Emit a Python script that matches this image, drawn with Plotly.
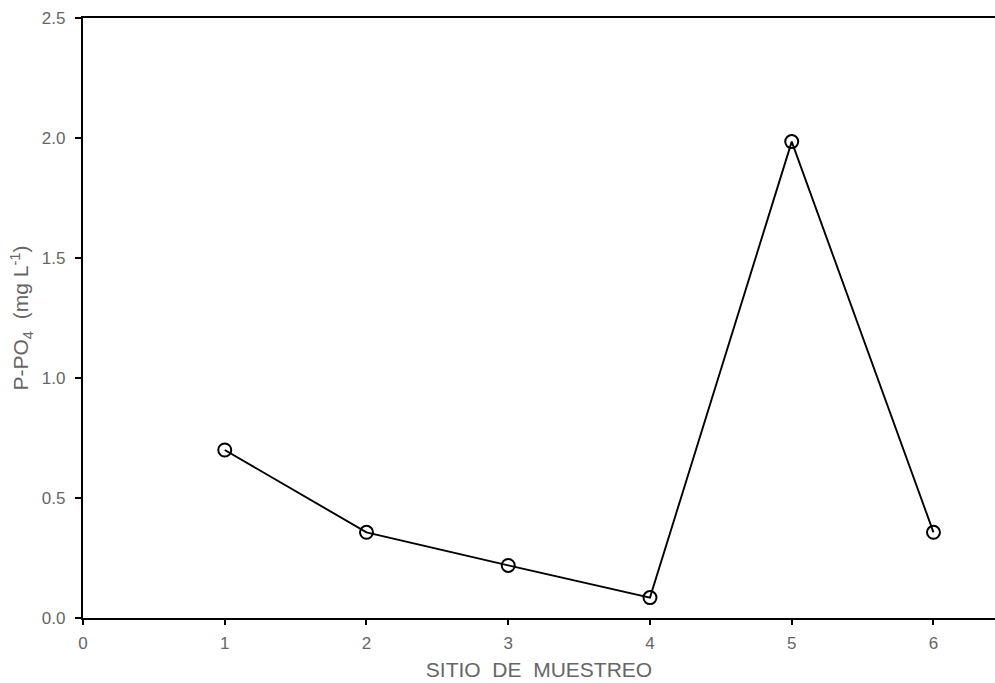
import plotly.graph_objects as go

sites = [1, 2, 3, 4, 5, 6]
p_po4 = [0.70, 0.357, 0.219, 0.085, 1.985, 0.357]

x_ticks = [0, 1, 2, 3, 4, 5, 6]
y_ticks = [0.0, 0.5, 1.0, 1.5, 2.0, 2.5]
y_labels = ["0.0", "0.5", "1.0", "1.5", "2.0", "2.5"]

fig = go.Figure()
fig.add_trace(go.Scatter(
    x=sites, y=p_po4, mode="lines+markers",
    line=dict(color="black", width=1.9),
    marker=dict(symbol="circle-open", size=13, color="black", line=dict(width=2)),
    cliponaxis=False, showlegend=False,
))

font_color = "#666666"
fig.update_layout(
    width=995, height=683,
    margin=dict(l=83, r=0, t=18, b=65),
    plot_bgcolor="white", paper_bgcolor="white",
    font=dict(family="Liberation Sans, Arial, sans-serif", color=font_color, size=17),
)
fig.update_xaxes(
    range=[0, 6.434], tickvals=x_ticks, ticktext=[str(v) for v in x_ticks],
    showgrid=False, zeroline=False,
    showline=True, linecolor="black", linewidth=2.4, mirror=True,
    ticks="outside", ticklen=5, tickwidth=1.8, tickcolor="black",
    tickfont=dict(size=17, color=font_color), ticklabelstandoff=3,
    title=dict(text="SITIO\u00a0 DE\u00a0 MUESTREO", font=dict(size=21, color=font_color), standoff=11),
)
fig.update_yaxes(
    range=[0, 2.5], tickvals=y_ticks, ticktext=y_labels,
    showgrid=False, zeroline=False,
    showline=True, linecolor="black", linewidth=2.4, mirror=False,
    ticks="outside", ticklen=6, tickwidth=1.8, tickcolor="black",
    tickfont=dict(size=17, color=font_color), ticklabelstandoff=6,
    title=dict(text="P-PO<sub>4</sub>\u00a0 (mg L<sup>-1</sup>)", font=dict(size=21, color=font_color), standoff=7),
)

fig.write_html("out.html", config={"displayModeBar": False},
               post_script="document.body.style.margin='0';")
